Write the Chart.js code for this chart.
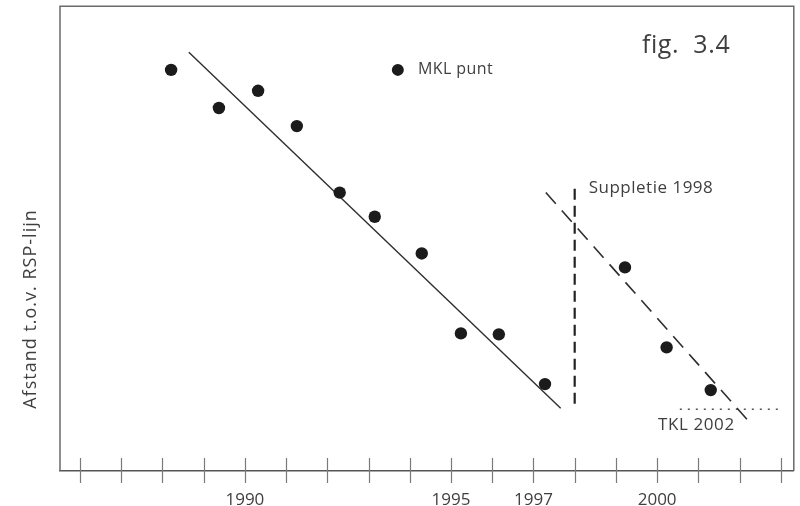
<!DOCTYPE html>
<html><head><meta charset="utf-8">
<script src="https://cdn.jsdelivr.net/npm/chart.js@4"></script>
<style>html,body{margin:0;padding:0;background:#fff}</style>
</head><body>
<canvas id="c" width="800" height="506"></canvas>
<script>
// ---- data ----
const MKL_YEARS  = [1988.21, 1989.37, 1990.32, 1991.26, 1992.30, 1993.15, 1994.29, 1995.24, 1996.16, 1997.28, 1999.22, 2000.23, 2001.30];
const MKL_VALUES = [86.3, 78.1, 81.8, 74.2, 59.9, 54.7, 46.8, 29.6, 29.4, 18.7, 43.8, 26.6, 17.4];
const TREND_BEFORE_YEARS  = [1988.64, 1997.66];
const TREND_BEFORE_VALUES = [90.1, 13.5];
const TREND_AFTER_YEARS   = [1997.30, 2002.20];
const TREND_AFTER_VALUES  = [59.9, 10.9];
const SUPPLETIE_YEARS  = [1998.0, 1998.0];
const SUPPLETIE_VALUES = [60.7, 14.2];
const TKL_YEARS  = [2000.55, 2003.02];
const TKL_VALUES = [13.3, 13.3];
const TICK_YEARS = [1986,1987,1988,1989,1990,1991,1992,1993,1994,1995,1996,1997,1998,1999,2000,2001,2002,2003];
const LABELED_YEARS = [1990, 1995, 1997, 2000];
const LEGEND_LABEL = 'MKL punt';
const Y_TITLE = 'Afstand t.o.v. RSP-lijn';
const FIG_LABEL = 'fig.  3.4';
const SUPPLETIE_LABEL = 'Suppletie 1998';
const TKL_LABEL = 'TKL 2002';

const X_MIN = 1985.515, X_MAX = 2003.315;
const FONT = '"Open Sans", "Noto Sans", sans-serif';
const INK = '#1b1b1b';
const TEXT = '#3f3f3f';

const toXY = (xs, ys) => xs.map((x, i) => ({x, y: ys[i]}));

// annotation anchors in data coordinates
const ANNOT = {
  fig:       {x: 1999.63, y: 89.9},
  legendDot: {x: 1993.71, y: 86.3},
  legendTxt: {x: 1994.20, y: 86.3},
  supp:      {x: 1998.34, y: 60.9},
  tkl:       {x: 2000.02, y: 9.9}
};

function spacedText(ctx, txt, x, y, spacing) {
  if ('letterSpacing' in ctx) {
    ctx.letterSpacing = spacing + 'px';
    ctx.fillText(txt, x, y);
    ctx.letterSpacing = '0px';
  } else {
    ctx.fillText(txt, x, y);
  }
}

const decor = {
  id: 'decor',
  beforeDatasetsDraw(chart) {
    const {ctx, chartArea: a, scales: {x}} = chart;
    ctx.save();
    ctx.strokeStyle = '#6a6a6a';
    ctx.lineWidth = 1.5;
    ctx.beginPath();
    ctx.moveTo(a.left, a.bottom);
    ctx.lineTo(a.left, a.top);
    ctx.lineTo(a.right, a.top);
    ctx.lineTo(a.right, a.bottom);
    ctx.stroke();
    ctx.strokeStyle = '#7a7a7a';
    ctx.lineWidth = 1.2;
    x.ticks.forEach(t => {
      const px = Math.round(x.getPixelForValue(t.value)) + 0.5;
      ctx.beginPath();
      ctx.moveTo(px, a.bottom - 13);
      ctx.lineTo(px, a.bottom + 12);
      ctx.stroke();
    });
    ctx.restore();
  },
  afterDatasetsDraw(chart) {
    const {ctx, chartArea: a, scales: {x, y}} = chart;
    const P = p => [x.getPixelForValue(p.x), y.getPixelForValue(p.y)];
    ctx.save();
    ctx.fillStyle = TEXT;
    // y title
    ctx.save();
    ctx.translate(a.left - 29, 309);
    ctx.rotate(-Math.PI / 2);
    ctx.font = '18px ' + FONT;
    ctx.textAlign = 'center';
    ctx.textBaseline = 'middle';
    spacedText(ctx, Y_TITLE, 0, 0, 1);
    ctx.restore();
    // fig label
    const [fx, fy] = P(ANNOT.fig);
    ctx.font = '25px ' + FONT;
    ctx.textAlign = 'left';
    ctx.textBaseline = 'alphabetic';
    spacedText(ctx, FIG_LABEL, fx, fy, 0.6);
    // legend
    const [dx, dy] = P(ANNOT.legendDot);
    ctx.fillStyle = INK;
    ctx.beginPath();
    ctx.arc(dx, dy, 6, 0, Math.PI * 2);
    ctx.fill();
    ctx.fillStyle = TEXT;
    const [lx, ly] = P(ANNOT.legendTxt);
    ctx.font = '16px ' + FONT;
    ctx.textBaseline = 'middle';
    spacedText(ctx, LEGEND_LABEL, lx, ly, 0.4);
    // annotations
    const [sx, sy] = P(ANNOT.supp);
    ctx.font = '17px ' + FONT;
    spacedText(ctx, SUPPLETIE_LABEL, sx, sy, 0.5);
    const [tx, ty] = P(ANNOT.tkl);
    spacedText(ctx, TKL_LABEL, tx, ty, 0.6);
    ctx.restore();
  }
};

new Chart(document.getElementById('c'), {
  type: 'scatter',
  data: {
    datasets: [
      {label: LEGEND_LABEL, data: toXY(MKL_YEARS, MKL_VALUES), pointRadius: 6.2, pointHoverRadius: 6.2,
       backgroundColor: INK, borderWidth: 0},
      {label: 'trend voor', data: toXY(TREND_BEFORE_YEARS, TREND_BEFORE_VALUES), showLine: true,
       pointRadius: 0, borderColor: '#2e2e2e', borderWidth: 1.4},
      {label: 'trend na', data: toXY(TREND_AFTER_YEARS, TREND_AFTER_VALUES), showLine: true,
       pointRadius: 0, borderColor: '#2e2e2e', borderWidth: 1.6, borderDash: [15, 9]},
      {label: 'suppletie', data: toXY(SUPPLETIE_YEARS, SUPPLETIE_VALUES), showLine: true,
       pointRadius: 0, borderColor: '#222', borderWidth: 2.2, borderDash: [11, 6]},
      {label: 'TKL', data: toXY(TKL_YEARS, TKL_VALUES), showLine: true,
       pointRadius: 0, borderColor: '#555', borderWidth: 1.6, borderDash: [2, 6]}
    ]
  },
  options: {
    responsive: false,
    devicePixelRatio: 1,
    animation: false,
    layout: {padding: {left: 60, right: 6, top: 5, bottom: 0}},
    plugins: {legend: {display: false}, tooltip: {enabled: false}},
    scales: {
      x: {
        type: 'linear', min: X_MIN, max: X_MAX, position: 'bottom',
        afterBuildTicks: s => { s.ticks = TICK_YEARS.map(v => ({value: v})); },
        afterFit: s => { s.height = 35; },
        ticks: {
          autoSkip: false, maxRotation: 0, padding: 11,
          font: {family: FONT, size: 17}, color: TEXT,
          callback: v => LABELED_YEARS.includes(v) ? String(v) : ''
        },
        grid: {display: false},
        border: {display: true, color: '#555', width: 1.5}
      },
      y: {display: false, min: 0, max: 100}
    }
  },
  plugins: [decor]
});
</script>
</body></html>
